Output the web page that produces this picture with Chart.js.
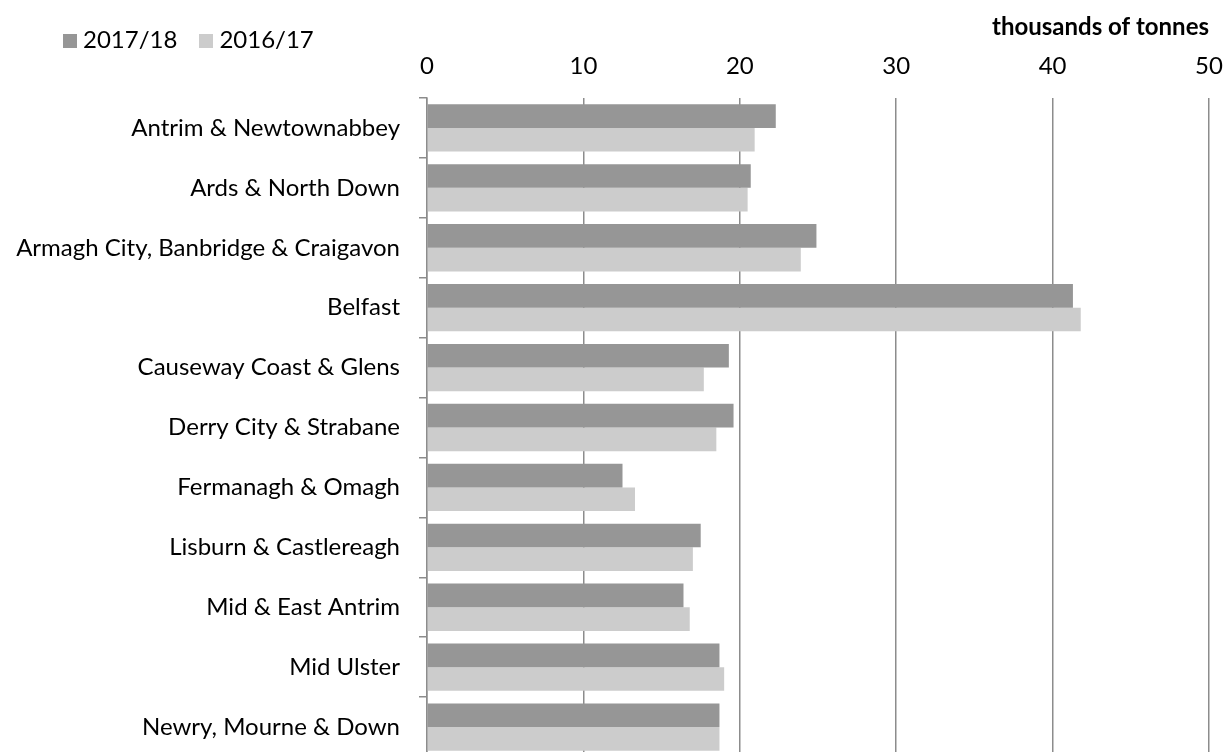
<!DOCTYPE html>
<html>
<head>
<meta charset="utf-8">
<script src="https://cdn.jsdelivr.net/npm/chart.js@4"></script>
<style>
  html, body { margin: 0; padding: 0; overflow: hidden; background: #ffffff; }
  #wrap { position: relative; width: 1227px; height: 760px; }
  #legend { position: absolute; left: 63px; top: 25px; display: flex; font-family: Lato, sans-serif; font-size: 24px; line-height: 1.2; color: #000; }
  .item { display: flex; align-items: center; margin-right: 22px; }
  .sw { width: 14px; height: 14px; margin-right: 6px; margin-top: 3px; }
</style>
</head>
<body>
<div id="wrap">
  <canvas id="chart"></canvas>
  <div id="legend"></div>
</div>
<script>
const categories = [
  "Antrim & Newtownabbey",
  "Ards & North Down",
  "Armagh City, Banbridge & Craigavon",
  "Belfast",
  "Causeway Coast & Glens",
  "Derry City & Strabane",
  "Fermanagh & Omagh",
  "Lisburn & Castlereagh",
  "Mid & East Antrim",
  "Mid Ulster",
  "Newry, Mourne & Down"
];
const seriesNames = ["2017/18", "2016/17"];
const values2017_18 = [22.3, 20.7, 24.9, 41.3, 19.3, 19.6, 12.5, 17.5, 16.4, 18.7, 18.7];
const values2016_17 = [20.95, 20.5, 23.9, 41.8, 17.7, 18.5, 13.3, 17.0, 16.8, 19.0, 18.7];
const xTickValues = [0, 10, 20, 30, 40, 50];
const axisTitle = "thousands of tonnes";

const FONT = "Lato";
Chart.defaults.font.family = FONT;
Chart.defaults.color = "#000000";

const GRID = "#8c8c8c";

const chart = new Chart(document.getElementById("chart"), {
  type: "bar",
  data: {
    labels: categories,
    datasets: [
      { label: seriesNames[0], data: values2017_18, backgroundColor: "#969696", borderWidth: 0 },
      { label: seriesNames[1], data: values2016_17, backgroundColor: "#cccccc", borderWidth: 0 }
    ]
  },
  options: {
    indexAxis: "y",
    responsive: true,
    maintainAspectRatio: false,
    animation: false,
    categoryPercentage: 0.79,
    barPercentage: 1.0,
    layout: { padding: { top: 13, right: 18, bottom: 3, left: 0 } },
    plugins: {
      legend: { display: false },
      tooltip: { enabled: false }
    },
    scales: {
      x: {
        position: "top",
        min: xTickValues[0],
        max: xTickValues[xTickValues.length - 1],
        afterBuildTicks: (scale) => { scale.ticks = xTickValues.map(v => ({ value: v })); },
        ticks: { padding: 17, font: { size: 24, lineHeight: 1.2 }, color: "#000" },
        grid: { color: GRID, lineWidth: 1.5, drawTicks: false },
        border: { display: false },
        title: {
          display: true,
          text: axisTitle,
          align: "end",
          padding: { top: 0, bottom: 0 },
          font: { size: 24, weight: "bold", lineHeight: 1.2 },
          color: "#000"
        },
        afterFit: (scale) => { scale.height = 85; scale.paddingLeft = 0; scale.paddingRight = 0; }
      },
      y: {
        ticks: { padding: 19, font: { size: 24, lineHeight: 1.2 }, color: "#000", autoSkip: false },
        grid: { display: true, drawOnChartArea: false, drawTicks: true, tickLength: 8, color: GRID, lineWidth: 1.5 },
        border: { display: true, color: GRID, width: 1.5 },
        afterFit: (scale) => { scale.width = 427; scale.paddingTop = 0; scale.paddingBottom = 0; }
      }
    }
  }
});

// HTML legend built from the chart's datasets
const legendEl = document.getElementById("legend");
chart.data.datasets.forEach(ds => {
  const item = document.createElement("div");
  item.className = "item";
  const sw = document.createElement("span");
  sw.className = "sw";
  sw.style.background = ds.backgroundColor;
  const txt = document.createElement("span");
  txt.textContent = ds.label;
  item.appendChild(sw);
  item.appendChild(txt);
  legendEl.appendChild(item);
});
</script>
</body>
</html>
